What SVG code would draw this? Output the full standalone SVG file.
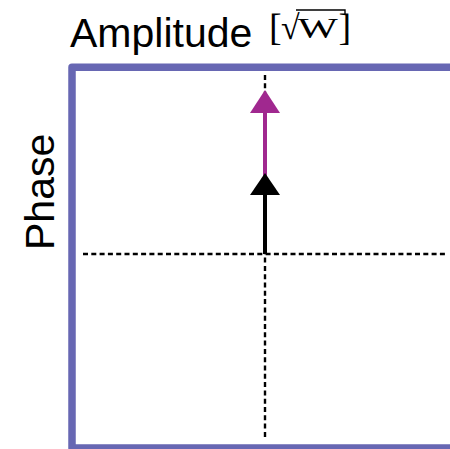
<svg xmlns="http://www.w3.org/2000/svg" width="450" height="449" viewBox="0 0 450 449">
  <style>
    .label { font-family: "Liberation Sans", Arial, sans-serif; font-size: 41px; fill: #000; }
    .unit { font-family: "Liberation Serif", "Times New Roman", serif; fill: #000; }
    .axis { stroke: #000; stroke-width: 2.4; stroke-dasharray: 5 3.3; fill: none; }
    .frame { stroke: #6767b3; stroke-width: 7.5; fill: none; stroke-linejoin: round; }
  </style>
  <rect width="450" height="449" fill="#fff"/>

  <!-- plot frame (right side runs off the canvas) -->
  <g id="frame">
    <path class="frame" d="M460,67.2 L72,67.2 L72,448 L460,448"/>
  </g>

  <!-- axis titles -->
  <g id="title-amplitude">
    <text class="label" x="70" y="47" font-size="42">Amplitude</text>
    <text class="unit" x="269" y="40" font-size="38">[</text>
    <text class="unit" x="281" y="38.5" font-size="34">√<tspan dx="-2" dy="-0.5" font-size="30" textLength="40" lengthAdjust="spacingAndGlyphs">W</tspan></text>
    <path d="M296,10 L345,10 L345,14" stroke="#000" stroke-width="1.4" fill="none"/>
    <text class="unit" x="338.5" y="40" font-size="38">]</text>
  </g>
  <g id="title-phase">
    <text class="label" transform="translate(54,250) rotate(-90)">Phase</text>
  </g>

  <!-- dashed reference axes and phasors -->
  <g id="connectors">
    <line class="axis" x1="83" y1="254" x2="447" y2="254"/>
    <line class="axis" x1="265" y1="75" x2="265" y2="438"/>
    <line x1="265" y1="195" x2="265" y2="112" stroke="#a0288f" stroke-width="4"/>
    <path d="M250,113 L265,90 L280,113 Z" fill="#a0288f"/>
    <line x1="265" y1="254" x2="265" y2="192" stroke="#000" stroke-width="4"/>
    <path d="M250,195 L265,173 L280,195 Z" fill="#000"/>
  </g>
</svg>
